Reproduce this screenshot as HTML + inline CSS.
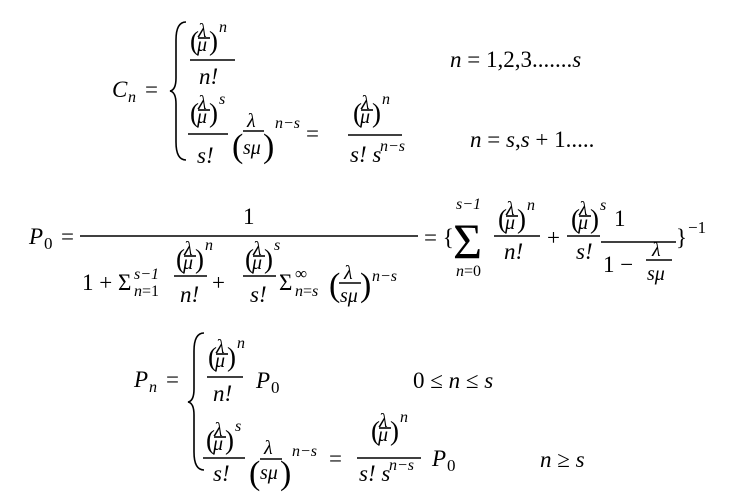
<!DOCTYPE html>
<html><head><meta charset="utf-8"><style>
html,body{margin:0;padding:0;background:#fff;}
svg{display:block}
text{font-family:"Liberation Serif","DejaVu Serif",serif;fill:#000;font-size:23px}
.i{font-style:italic}
.s{font-size:20px}
.sp{font-size:16px;font-style:italic}
.sn{font-size:17px}
.p{font-size:27px}
.pp{font-size:34px}
.big{font-size:50px}
line{stroke:#000;stroke-width:1.6}
path{fill:none;stroke:#000;stroke-width:1.6}
</style></head><body>
<svg width="744" height="492" viewBox="0 0 744 492" xmlns="http://www.w3.org/2000/svg">
<!-- C_n -->
<text x="112" y="97" class="i">C</text><text x="128" y="102" class="sp">n</text>
<text x="145" y="97">=</text>
<path d="M186 22 Q176 22 176 40 L176 78 Q176 90 170 91 Q176 92 176 104 L176 142 Q176 160 186 160"/>
<g transform="translate(190,20)"><text x="0" y="30" class="p">(</text><text x="8" y="17" class="i s">λ</text><line x1="8" x2="20" y1="18" y2="18"/><text x="7" y="31" class="i s">μ</text><text x="19" y="30" class="p">)</text><text x="29" y="12" class="sp">n</text></g>
<line x1="190" x2="235" y1="60" y2="60"/>
<text x="199" y="84" class="i">n!</text>
<text x="450" y="67" class="i">n<tspan font-style="normal"> = 1,2,3.......</tspan>s</text>
<g transform="translate(190,92)"><text x="0" y="30" class="p">(</text><text x="8" y="17" class="i s">λ</text><line x1="8" x2="20" y1="18" y2="18"/><text x="7" y="31" class="i s">μ</text><text x="19" y="30" class="p">)</text><text x="29" y="12" class="sp">s</text></g>
<line x1="188" x2="228" y1="134" y2="134"/>
<text x="197" y="163" class="i">s!</text>
<text x="232" y="157" class="pp">(</text><text x="247" y="127" class="i s">λ</text><line x1="243" x2="264" y1="131" y2="131"/><text x="243" y="154" class="i s">sμ</text><text x="263" y="157" class="pp">)</text><text x="275" y="128" class="sp">n−s</text>
<text x="306" y="141">=</text>
<g transform="translate(353,92)"><text x="0" y="30" class="p">(</text><text x="8" y="17" class="i s">λ</text><line x1="8" x2="20" y1="18" y2="18"/><text x="7" y="31" class="i s">μ</text><text x="19" y="30" class="p">)</text><text x="29" y="12" class="sp">n</text></g>
<line x1="348" x2="402" y1="135" y2="135"/>
<text x="350" y="162" class="i">s! s</text><text x="380" y="151" class="sp">n−s</text>
<text x="470" y="147" class="i">n<tspan font-style="normal"> = </tspan>s<tspan font-style="normal">,</tspan>s<tspan font-style="normal"> + 1.....</tspan></text>

<!-- P0 -->
<text x="29" y="244" class="i">P</text><text x="44" y="249" class="sn">0</text>
<text x="61" y="244">=</text>
<line x1="80" x2="418" y1="236" y2="236"/>
<text x="243" y="224">1</text>
<text x="82" y="290">1 + Σ</text><text x="134" y="279" class="sp">s−1</text><text x="134" y="296" class="sp">n<tspan font-style="normal">=1</tspan></text>
<g transform="translate(176,238)"><text x="0" y="30" class="p">(</text><text x="8" y="17" class="i s">λ</text><line x1="8" x2="20" y1="18" y2="18"/><text x="7" y="31" class="i s">μ</text><text x="19" y="30" class="p">)</text><text x="29" y="12" class="sp">n</text></g>
<line x1="174" x2="207" y1="276" y2="276"/>
<text x="180" y="302" class="i">n!</text>
<text x="212" y="290">+</text>
<g transform="translate(245,238)"><text x="0" y="30" class="p">(</text><text x="8" y="17" class="i s">λ</text><line x1="8" x2="20" y1="18" y2="18"/><text x="7" y="31" class="i s">μ</text><text x="19" y="30" class="p">)</text><text x="29" y="12" class="sp">s</text></g>
<line x1="243" x2="276" y1="276" y2="276"/>
<text x="250" y="302" class="i">s!</text>
<text x="279" y="290">Σ</text><text x="295" y="279" class="sn">∞</text><text x="295" y="296" class="sp">n<tspan font-style="normal">=</tspan>s</text>
<text x="329" y="296" class="pp">(</text><text x="344" y="279" class="i s">λ</text><line x1="339" x2="361" y1="283" y2="283"/><text x="340" y="302" class="i s">sμ</text><text x="360" y="296" class="pp">)</text><text x="372" y="281" class="sp">n−s</text>
<text x="424" y="245">= {</text>
<text x="453" y="258" class="big">Σ</text>
<text x="456" y="209" class="sp">s−1</text><text x="456" y="276" class="sp">n<tspan font-style="normal">=0</tspan></text>
<g transform="translate(498,198)"><text x="0" y="30" class="p">(</text><text x="8" y="17" class="i s">λ</text><line x1="8" x2="20" y1="18" y2="18"/><text x="7" y="31" class="i s">μ</text><text x="19" y="30" class="p">)</text><text x="29" y="12" class="sp">n</text></g>
<line x1="494" x2="540" y1="236" y2="236"/>
<text x="504" y="259" class="i">n!</text>
<text x="547" y="245">+</text>
<g transform="translate(571,198)"><text x="0" y="30" class="p">(</text><text x="8" y="17" class="i s">λ</text><line x1="8" x2="20" y1="18" y2="18"/><text x="7" y="31" class="i s">μ</text><text x="19" y="30" class="p">)</text><text x="29" y="12" class="sp">s</text></g>
<line x1="567" x2="600" y1="236" y2="236"/>
<text x="576" y="259" class="i">s!</text>
<text x="614" y="226">1</text>
<line x1="601" x2="676" y1="242" y2="242"/>
<text x="603" y="272">1 −</text>
<text x="652" y="256" class="i s">λ</text><line x1="646" x2="672" y1="260" y2="260"/><text x="647" y="280" class="i s">sμ</text>
<text x="676" y="245">}</text><text x="688" y="233" class="sn">−1</text>

<!-- Pn -->
<text x="134" y="387" class="i">P</text><text x="149" y="392" class="sp">n</text>
<text x="166" y="387">=</text>
<path d="M204 333 Q194 333 194 351 L194 389 Q194 401 188 402 Q194 403 194 415 L194 452 Q194 470 204 470"/>
<g transform="translate(208,336)"><text x="0" y="30" class="p">(</text><text x="8" y="17" class="i s">λ</text><line x1="8" x2="20" y1="18" y2="18"/><text x="7" y="31" class="i s">μ</text><text x="19" y="30" class="p">)</text><text x="29" y="12" class="sp">n</text></g>
<line x1="207" x2="243" y1="377" y2="377"/>
<text x="213" y="401" class="i">n!</text>
<text x="256" y="388" class="i">P</text><text x="271" y="393" class="sn">0</text>
<text x="413" y="388">0 ≤ <tspan font-style="italic">n</tspan> ≤ <tspan font-style="italic">s</tspan></text>
<g transform="translate(206,419)"><text x="0" y="30" class="p">(</text><text x="8" y="17" class="i s">λ</text><line x1="8" x2="20" y1="18" y2="18"/><text x="7" y="31" class="i s">μ</text><text x="19" y="30" class="p">)</text><text x="29" y="12" class="sp">s</text></g>
<line x1="203" x2="245" y1="458" y2="458"/>
<text x="213" y="481" class="i">s!</text>
<text x="249" y="484" class="pp">(</text><text x="264" y="454" class="i s">λ</text><line x1="260" x2="282" y1="459" y2="459"/><text x="260" y="479" class="i s">sμ</text><text x="280" y="484" class="pp">)</text><text x="292" y="456" class="sp">n−s</text>
<text x="329" y="466">=</text>
<g transform="translate(371,410)"><text x="0" y="30" class="p">(</text><text x="8" y="17" class="i s">λ</text><line x1="8" x2="20" y1="18" y2="18"/><text x="7" y="31" class="i s">μ</text><text x="19" y="30" class="p">)</text><text x="29" y="12" class="sp">n</text></g>
<line x1="357" x2="421" y1="458" y2="458"/>
<text x="359" y="481" class="i">s! s</text><text x="389" y="470" class="sp">n−s</text>
<text x="432" y="466" class="i">P</text><text x="447" y="471" class="sn">0</text>
<text x="540" y="467" class="i">n<tspan font-style="normal"> ≥ </tspan>s</text>
</svg>
</body></html>
